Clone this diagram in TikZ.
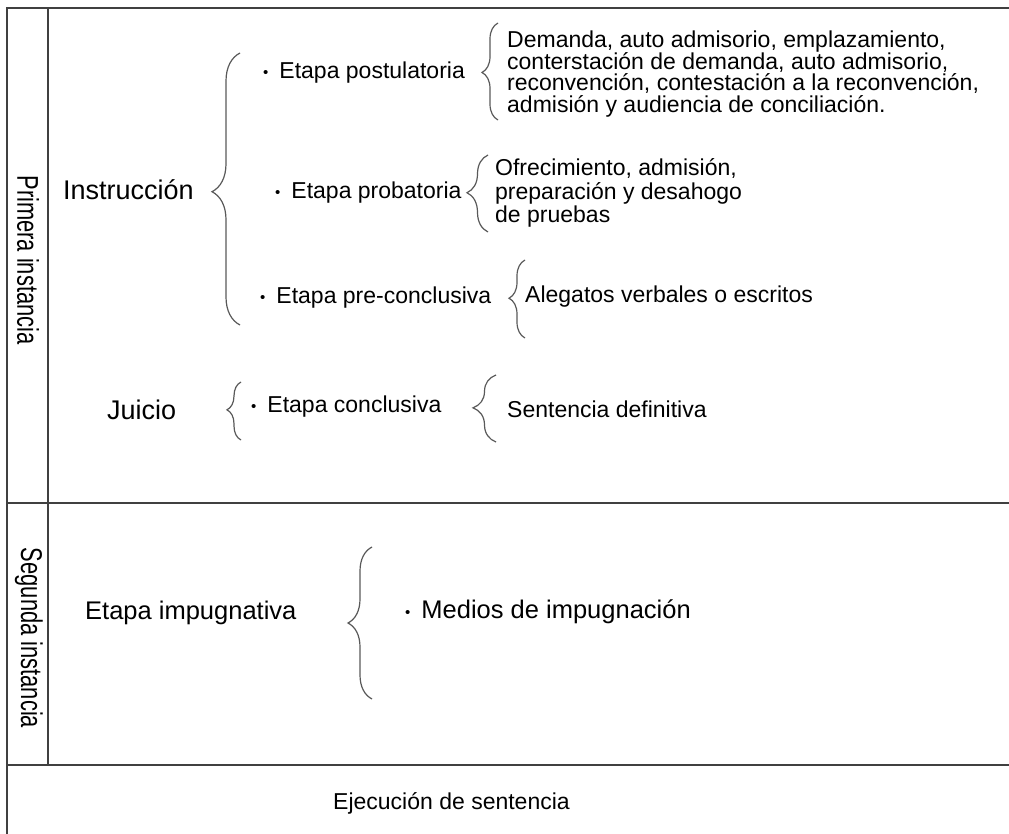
\documentclass[tikz,border=0pt]{standalone}
\usepackage{fontspec}
\setmainfont{Liberation Sans}
\usetikzlibrary{decorations.pathreplacing}
\newcommand{\pto}{\raisebox{1.5pt}{\fontsize{15}{15}\selectfont\textbullet}\hspace{11pt}}
\newcommand{\apretado}{\lineskiplimit=-20pt\relax}
\begin{document}
\begin{tikzpicture}[x=1pt,y=-1pt,
		rule/.style={draw=black!75,line width=1.6pt},
		curly/.style 2 args={draw=black!65,line width=1.2pt,decorate,decoration={brace,amplitude=#1,aspect=#2}},
		txt/.style={anchor=west,inner sep=0pt,font=\fontsize{23}{23}\selectfont},
		big/.style={txt,font=\fontsize{27}{27}\selectfont},
		mid/.style={txt,font=\fontsize{25.5}{25.5}\selectfont},
		side/.style={inner sep=0pt,rotate=-90,font=\fontsize{30}{30}\selectfont}]
	\useasboundingbox (0,0) rectangle (1009,834);
	% marco de la tabla
	\draw[rule] (1009,8) -- (7,8) -- (7,834);
	\draw[rule] (48,8) -- (48,765);
	\draw[rule] (7,503) -- (1009,503);
	\draw[rule] (7,765) -- (1009,765);
	\node[side] (prim) at (28,260) {\scalebox{0.73}[1]{Primera instancia}};
	\node[side] (segu) at (29,638) {\scalebox{0.73}[1]{Segunda instancia}};
	% primera instancia
	\node[big] (instr) at (63,190) {Instrucción};
	\draw[curly={28}{0.49}] (240,325) -- (240,53);
	\node[txt] (post) at (263,73) {\pto Etapa postulatoria};
	\draw[curly={16}{0.49}] (498,120) -- (498,23);
	\node[txt,align=left,font=\fontsize{23}{21.7}\selectfont\apretado] (dem) at (507,74) {Demanda, auto admisorio, emplazamiento,\\conterstación de demanda, auto admisorio,\\reconvención, contestación a la reconvención,\\admisión y audiencia de conciliación.};
	\node[txt] (prob) at (275,193) {\pto Etapa probatoria};
	\draw[curly={21}{0.51}] (488,232) -- (488,155);
	\node[txt,align=left,font=\fontsize{23}{23.5}\selectfont\apretado] (ofre) at (495,193) {Ofrecimiento, admisión,\\preparación y desahogo\\de pruebas};
	\node[txt] (prec) at (260,298) {\pto Etapa pre-conclusiva};
	\draw[curly={16}{0.51}] (525,338) -- (525,260);
	\node[txt] (aleg) at (525,297) {Alegatos verbales o escritos};
	\node[big] (juic) at (107,410) {Juicio};
	\draw[curly={14}{0.52}] (241,440) -- (241,382);
	\node[txt] (conc) at (251,407) {\pto Etapa conclusiva};
	\draw[curly={23}{0.51}] (496,442) -- (496,375);
	\node[txt] (sent) at (507,409) {Sentencia definitiva};
	% segunda instancia
	\node[mid] (impu) at (85,613) {Etapa impugnativa};
	\draw[curly={24}{0.5}] (372,699) -- (372,547);
	\node[mid] (medi) at (405,612) {\pto Medios de impugnación};
	% ejecucion
	\node[txt] (ejec) at (333,803) {Ejecución de sentencia};
\end{tikzpicture}
\end{document}
